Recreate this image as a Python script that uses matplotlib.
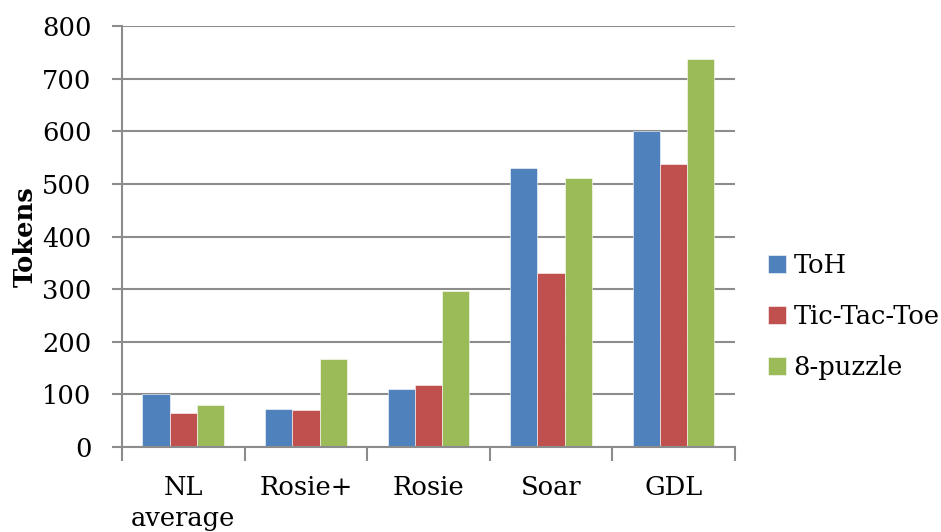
import numpy as np
import matplotlib
matplotlib.use("Agg")
import matplotlib.pyplot as plt

categorias = ["NL\naverage", "Rosie+", "Rosie", "Soar", "GDL"]
series = ["ToH", "Tic-Tac-Toe", "8-puzzle"]
toh = [101, 73, 110, 531, 601]
ttt = [64, 70, 117, 330, 538]
puzzle8 = [80, 168, 297, 512, 738]
cores = ["#4F81BD", "#C0504D", "#9BBB59"]

plt.rcParams["font.family"] = ["DejaVu Serif"]
fs = 18.5

fig = plt.figure(figsize=(9.41, 5.32), dpi=100)
ax = fig.add_axes([0.1297, 0.1598, 0.6513, 0.7913])

x = np.arange(len(categorias))
w = 1 / 4.5
for k, (nome, vals) in enumerate(zip(series, [toh, ttt, puzzle8])):
    ax.bar(x + (k - 1) * w, vals, w, color=cores[k], label=nome,
           edgecolor="white", linewidth=0.4, zorder=2)

ax.set_xlim(-0.5, len(categorias) - 0.5)
ax.set_ylim(0, 800)
ax.set_yticks(range(0, 801, 100))
ax.yaxis.grid(True, color="#8c8c8c", lw=1.5, zorder=0)
ax.set_axisbelow(True)

ax.set_xticks(np.arange(-0.5, len(categorias), 1))
ax.set_xticklabels([])
ax.set_xticks(x, minor=True)
ax.set_xticklabels(categorias, minor=True, fontsize=fs, va="top", linespacing=1.3)
ax.tick_params(axis="x", which="minor", length=0, pad=20)
ax.tick_params(axis="x", which="major", length=10, width=1.5, color="#8c8c8c")
ax.tick_params(axis="y", length=7, width=1.5, color="#8c8c8c", labelsize=fs, pad=15)

for lado in ["top", "right"]:
    ax.spines[lado].set_visible(False)
for lado in ["left", "bottom"]:
    ax.spines[lado].set_color("#8c8c8c")
    ax.spines[lado].set_linewidth(1.5)

ax.set_ylabel("Tokens", fontsize=fs, fontweight="bold", labelpad=3)

ax.legend(loc="center left", bbox_to_anchor=(1.054, 0.31), frameon=False,
          fontsize=fs, handlelength=0.7, handleheight=0.7, labelspacing=1.0,
          handletextpad=0.3, borderaxespad=0, borderpad=0)

fig.savefig("out.png", dpi=100)
